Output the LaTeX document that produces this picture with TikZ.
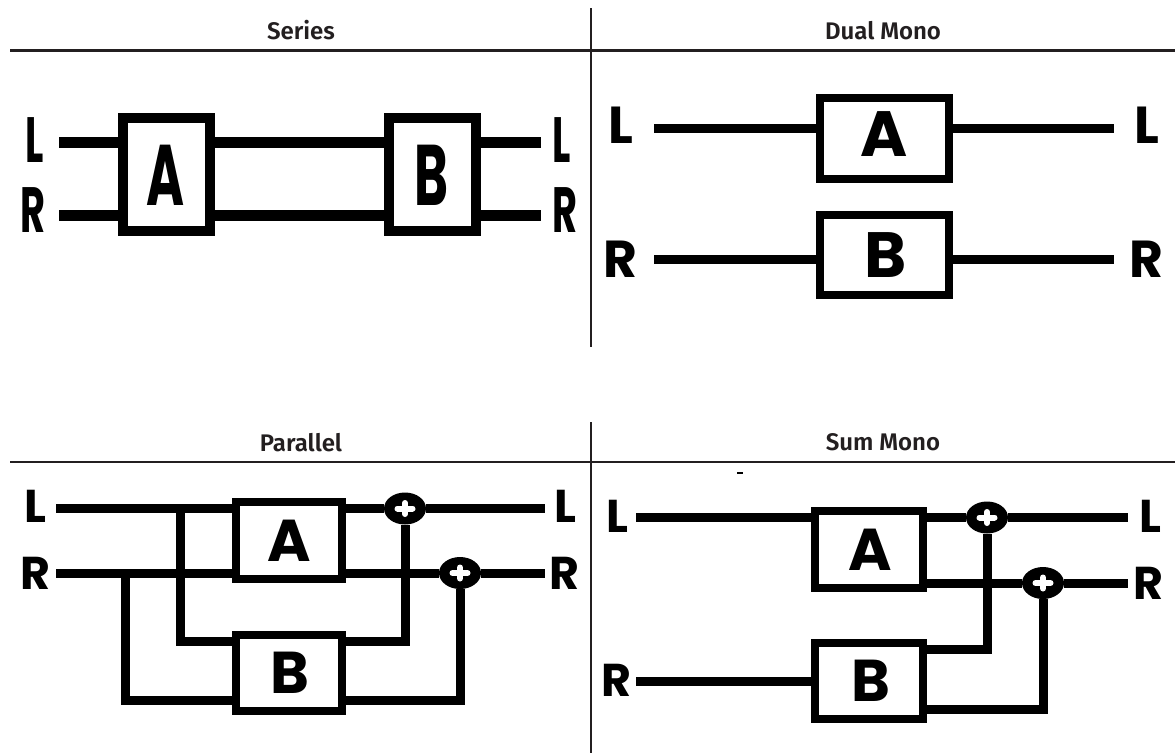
\documentclass[tikz,border=0pt]{standalone}
\usepackage{fontspec}
\usepackage{graphicx}
\usetikzlibrary{shapes.geometric}
\newfontfamily\hfont{Fira Sans}[BoldFont={Fira Sans SemiBold}]
\newfontfamily\lfont{Poppins}[BoldFont={Poppins Bold}]
\definecolor{hdrc}{HTML}{231F20}
\tikzset{
  hdr/.style={font=\hfont\bfseries\fontsize{24}{24}\selectfont, text=hdrc, inner sep=0, outer sep=0},
  labS/.style={font=\lfont\bfseries\fontsize{64}{64}\selectfont, inner sep=0, outer sep=0},
  labSB/.style={font=\lfont\bfseries\fontsize{86}{86}\selectfont, inner sep=0, outer sep=0},
  labD/.style={font=\lfont\bfseries\fontsize{52}{52}\selectfont, inner sep=0, outer sep=0},
  labDB/.style={font=\lfont\bfseries\fontsize{64}{64}\selectfont, inner sep=0, outer sep=0},
  labP/.style={font=\lfont\bfseries\fontsize{46}{46}\selectfont, inner sep=0, outer sep=0},
  labPB/.style={font=\lfont\bfseries\fontsize{59}{59}\selectfont, inner sep=0, outer sep=0},
  boxS/.style={draw, fill=white, line width=10, inner sep=0, outer sep=0, minimum width=87, minimum height=113},
  boxD/.style={draw, fill=white, line width=8, inner sep=0, outer sep=0},
  sigS/.style={line width=11},
  sig/.style={line width=9},
  sumnode/.style={ellipse, fill=black, minimum width=42, minimum height=32, inner sep=0, outer sep=0},
  plus/.style={white, line width=6, line cap=round},
  rule/.style={draw=hdrc, line width=2.5}
}
\newcommand{\cond}[1]{\scalebox{0.6}[1]{#1}}
\begin{document}
\begin{tikzpicture}[x=1pt,y=-1pt]
\useasboundingbox (0,0) rectangle (1175,753);
% ---------- rules ----------
\coordinate (h1a) at (10,50.5); \coordinate (h1b) at (1175,50.5);
\coordinate (v1a) at (591,8); \coordinate (v1b) at (591,347);
\coordinate (h2a) at (10,462); \coordinate (h2b) at (1175,462);
\coordinate (v2a) at (591,422); \coordinate (v2b) at (591,753);
\draw[rule] (h1a) -- (h1b);
\draw[rule] (v1a) -- (v1b);
\draw[rule] (h2a) -- (h2b);
\draw[rule] (v2a) -- (v2b);
% ---------- headers ----------
\node[hdr] (t1) at (301,30.5) {Series};
\node[hdr] (t2) at (883,30.5) {Dual Mono};
\node[hdr] (t3) at (301,442.5) {Parallel};
\node[hdr] (t4) at (883,442.5) {Sum Mono};

% ================= SERIES =================
\node[boxS] (sA) at (166.5,174.5) {};
\node[boxS] (sB) at (432.5,174.5) {};
\node[labSB] (sAt) at (165.5,175) {\cond{A}};
\node[labSB] (sBt) at (431,175) {\cond{B}};
\node[labS] (sLi) at (35,140) {\cond{L}};
\node[labS] (sRi) at (33,210) {\cond{R}};
\node[labS] (sLo) at (562,140) {\cond{L}};
\node[labS] (sRo) at (565,210) {\cond{R}};
\coordinate (sLs) at (59,142); \coordinate (sLe) at (541,142);
\coordinate (sRs) at (59,215); \coordinate (sRe) at (541,215);
\draw[sigS] (sLs) -- (sLs -| sA.west);
\draw[sigS] (sLs -| sA.east) -- (sLs -| sB.west);
\draw[sigS] (sLs -| sB.east) -- (sLe);
\draw[sigS] (sRs) -- (sRs -| sA.west);
\draw[sigS] (sRs -| sA.east) -- (sRs -| sB.west);
\draw[sigS] (sRs -| sB.east) -- (sRe);

% ================= DUAL MONO =================
\node[boxD, minimum width=129, minimum height=81] (dA) at (884.5,138.5) {};
\node[boxD, minimum width=129, minimum height=80] (dB) at (884.5,255) {};
\node[labDB] (dAt) at (884,134.5) {A};
\node[labDB] (dBt) at (886,255) {B};
\node[labD] (dLi) at (621,125) {L};
\node[labD] (dRi) at (620,259) {R};
\node[labD] (dLo) at (1147,125) {L};
\node[labD] (dRo) at (1146,259) {R};
\coordinate (dLs) at (654,128); \coordinate (dLe) at (1114,128);
\coordinate (dRs) at (654,259); \coordinate (dRe) at (1114,259);
\draw[sig] (dLs) -- (dLs -| dA.west);
\draw[sig] (dLs -| dA.east) -- (dLe);
\draw[sig] (dRs) -- (dRs -| dB.west);
\draw[sig] (dRs -| dB.east) -- (dRe);

% ================= PARALLEL =================
\node[boxD, minimum width=106, minimum height=77] (pA) at (289,540.5) {};
\node[boxD, minimum width=106, minimum height=76] (pB) at (289,673) {};
\node[labPB] (pAt) at (289.5,541) {A};
\node[labPB] (pBt) at (290,672.5) {B};
\node[labP] (pLi) at (35,506) {L};
\node[labP] (pRi) at (35,573) {R};
\node[labP] (pLo) at (565,506) {L};
\node[labP] (pRo) at (564,573) {R};
\node[sumnode] (pS1) at (405,508.5) {};
\node[sumnode] (pS2) at (460,573) {};
\coordinate (pLs) at (56,508.5); \coordinate (pLe) at (545,508.5);
\coordinate (pRs) at (56,573); \coordinate (pRe) at (545,573);
\coordinate (pJ1) at (180,508.5); \coordinate (pJ2) at (125,573);
\coordinate (pBu) at (0,641); \coordinate (pBl) at (0,700);
\draw[sig] (pLs) -- (pLs -| pA.west);
\draw[sig] (pLs -| pA.east) -- (pS1);
\draw[sig] (pS1) -- (pLe);
\draw[sig] (pRs) -- (pRs -| pA.west);
\draw[sig] (pRs -| pA.east) -- (pS2);
\draw[sig] (pS2) -- (pRe);
\draw[sig] (pJ1) |- (pB.west |- pBu);
\draw[sig] (pJ2) |- (pB.west |- pBl);
\draw[sig] (pB.east |- pBu) -| (pS1);
\draw[sig] (pB.east |- pBl) -| (pS2);

% ================= SUM MONO =================
\node[boxD, minimum width=107.5, minimum height=77] (mA) at (868.75,549.5) {};
\node[boxD, minimum width=107.5, minimum height=76] (mB) at (868.75,681) {};
\node[labPB] (mAt) at (870,550) {A};
\node[labPB] (mBt) at (871,680.5) {B};
\node[labP] (mLi) at (617,516) {L};
\node[labP] (mRi) at (616,680) {R};
\node[labP] (mLo) at (1150,516) {L};
\node[labP] (mRo) at (1148,583) {R};
\node[sumnode] (mS1) at (987,517.5) {};
\node[sumnode] (mS2) at (1043,583) {};
\coordinate (mLs) at (636,517.5); \coordinate (mLe) at (1128,517.5);
\coordinate (mRs) at (636,681); \coordinate (mRe) at (1128,583);
\coordinate (mAl) at (0,583);
\coordinate (mBu) at (0,649.5); \coordinate (mBl) at (0,709.5);
\draw[sig] (mLs) -- (mLs -| mA.west);
\draw[sig] (mLs -| mA.east) -- (mS1);
\draw[sig] (mS1) -- (mLe);
\draw[sig] (mA.east |- mAl) -- (mS2);
\draw[sig] (mS2) -- (mRe);
\draw[sig] (mRs) -- (mRs -| mB.west);
\draw[sig] (mB.east |- mBu) -| (mS1);
\draw[sig] (mB.east |- mBl) -| (mS2);
\fill (737,472) rectangle (743,474);

% ---------- plus signs ----------
\foreach \s in {pS1,pS2,mS1,mS2}{
  \draw[plus] ([xshift=-7.5pt]\s.center) -- ([xshift=7.5pt]\s.center);
  \draw[plus] ([yshift=-5.5pt]\s.center) -- ([yshift=5.5pt]\s.center);
}
\end{tikzpicture}
\end{document}
